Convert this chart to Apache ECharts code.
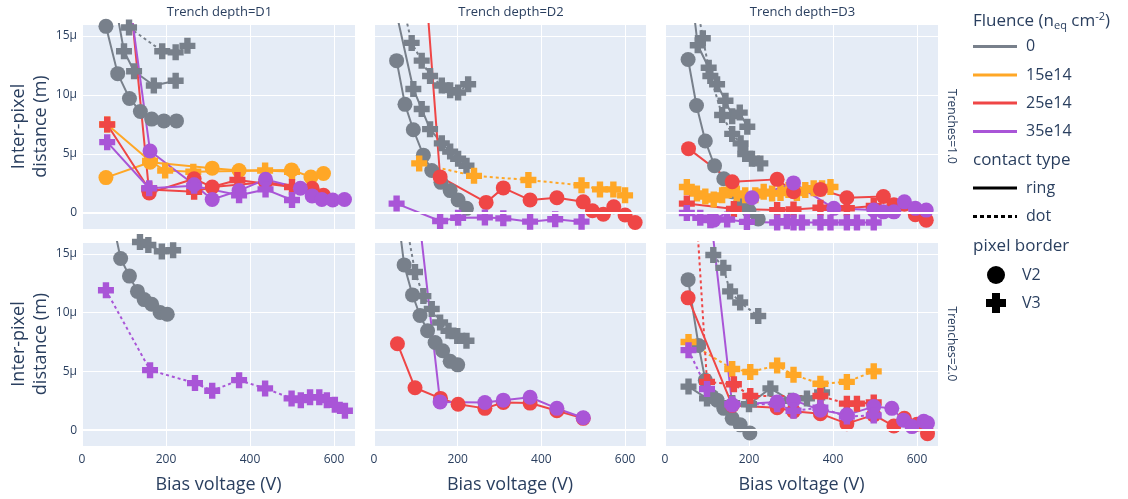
<!DOCTYPE html>
<html>
<head>
<meta charset="utf-8">
<script src="https://cdn.jsdelivr.net/npm/echarts@6/dist/echarts.min.js"></script>
<style>
  html, body { margin: 0; padding: 0; background: #fff; }
  #chart { width: 1128px; height: 499px; }
</style>
</head>
<body>
<div id="chart"></div>
<script>
// facets
const depths = ['D1', 'D2', 'D3']
const trenches = ['1.0', '2.0']
const fluences = ['0', '15e14', '25e14', '35e14']
const contactTypes = ['ring', 'dot']
const pixelBorders = ['V2', 'V3']
const xTicks = [0, 200, 400, 600]
const yTicks = [0, 5, 10, 15]

// points are [bias voltage (V), inter-pixel distance (µm)]
// Trench depth=D1, Trenches=1.0
const d1t1_0_ring_V2 = [[57, 15.8], [85, 11.8], [113, 9.7], [139, 8.6], [166, 7.95], [195, 7.8], [225, 7.8]]
const d1t1_0_ring_V3 = [[60, 21.5], [100, 13.7], [124, 12.0], [171, 10.8], [223, 11.2]]
const d1t1_0_dot_V3 = [[112, 15.7], [191, 13.7], [223, 13.6], [251, 14.15]]
const d1t1_15_ring_V2 = [[57, 3.0], [162, 4.3], [310, 3.8], [374, 3.6], [499, 3.65], [545, 3.05], [575, 3.35]]
const d1t1_15_ring_V3 = [[60, 7.5], [162, 4.4], [198, 3.6], [265, 3.5], [436, 3.6], [500, 3.5]]
const d1t1_25_ring_V2 = [[100, 23.7], [160, 1.7], [267, 2.9], [310, 2.2], [437, 2.6], [548, 2.1], [575, 1.5]]
const d1t1_25_ring_V3 = [[60, 7.5], [160, 2.0], [267, 1.8], [370, 2.8], [500, 2.2]]
const d1t1_35_ring_V2 = [[100, 21.5], [162, 5.25], [267, 2.4], [310, 1.15], [374, 1.9], [437, 2.85], [520, 2.1], [548, 1.45], [571, 1.15], [597, 1.1], [625, 1.15]]
const d1t1_35_ring_V3 = [[60, 6.0], [160, 2.1], [267, 2.3], [374, 1.5], [437, 2.0], [500, 1.1]]

// Trench depth=D2, Trenches=1.0
const d2t1_0_ring_V2 = [[54, 12.9], [74, 9.2], [94, 7.05], [118, 4.9], [138, 3.6], [160, 2.6], [182, 1.9], [201, 1.1], [221, 0.4]]
const d2t1_0_ring_V3 = [[50, 17.5], [94, 10.5], [114, 8.8], [134, 7.1], [162, 5.9], [182, 5.2], [201, 4.6], [221, 4.0]]
const d2t1_0_dot_V3 = [[60, 19], [90, 14.4], [114, 12.9], [134, 11.6], [162, 10.8], [182, 10.4], [201, 10.2], [225, 10.9]]
const d2t1_15_dot_V3 = [[108, 4.2], [239, 3.15], [369, 2.8], [496, 2.35], [540, 2.0], [572, 2.0], [600, 1.5]]
const d2t1_25_ring_V2 = [[120, 21], [158, 3.06], [268, 0.9], [309, 2.13], [373, 1.1], [437, 1.3], [500, 0.95], [522, 0.2], [548, -0.1], [573, 0.53], [600, -0.17], [624, -0.8]]
const d2t1_35_ring_V3 = [[54, 0.8], [158, -0.67], [201, -0.4], [265, -0.37], [309, -0.45], [373, -0.73], [433, -0.53], [496, -0.73]]

// Trench depth=D3, Trenches=1.0
const d3t1_0_ring_V2 = [[55, 13.0], [75, 9.1], [96, 6.1], [118, 4.0], [140, 2.9], [160, 1.8], [180, 0.9], [200, 0.2], [222, -0.5]]
const d3t1_0_ring_V3 = [[62, 19], [78, 14.2], [104, 12.3], [124, 10.9], [144, 9.5], [160, 8.2], [178, 8.5], [196, 7.3]]
const d3t1_0_dot_V3 = [[70, 19], [90, 14.8], [108, 11.6], [136, 8.3], [160, 6.7], [180, 5.9], [191, 5.0], [207, 4.6], [227, 4.2]]
const d3t1_15_ring_V3 = [[52, 2.2], [76, 1.65], [96, 1.4], [116, 1.15], [136, 1.5], [152, 1.95], [171, 1.65], [191, 1.5], [215, 1.5], [235, 1.8], [255, 1.65], [275, 1.7], [294, 1.95], [314, 1.7], [334, 1.95], [354, 2.1], [374, 2.1], [394, 2.2]]
const d3t1_25_ring_V2 = [[56, 5.45], [160, 2.65], [267, 2.85], [306, 1.8], [370, 2.0], [433, 1.3], [520, 1.4], [545, 0.7], [570, 0.75], [596, -0.15], [622, -0.6]]
const d3t1_25_ring_V3 = [[52, 0.8], [164, 0.35], [267, 0.25], [306, 0.3], [370, 0.45], [433, 0.4], [497, 0.6]]
const d3t1_35_ring_V2 = [[116, -0.6], [207, 1.3], [306, 2.55], [402, 0.4], [497, 0.25], [520, 0.1], [545, 0.1], [570, 0.95], [596, 0.4], [622, 0.25]]
const d3t1_35_ring_V3 = [[52, 0.0], [84, -0.4], [108, -0.6], [148, -0.55], [195, -0.75], [267, -0.8], [290, -0.7], [306, -0.8], [326, -0.8], [370, -0.8], [394, -0.8], [433, -0.8], [457, -0.8], [497, -0.8]]

// Trench depth=D1, Trenches=2.0
const d1t2_0_ring_V2 = [[60, 20], [92, 14.6], [113, 13.1], [132, 11.8], [148, 11.1], [166, 10.7], [186, 10.0], [203, 9.85]]
const d1t2_0_ring_V3 = [[100, 19], [138, 16.0], [158, 15.75], [190, 15.2], [217, 15.3]]
const d1t2_35_dot_V3 = [[57, 11.9], [162, 5.1], [269, 4.0], [310, 3.35], [374, 4.25], [436, 3.55], [499, 2.7], [521, 2.55], [543, 2.8], [565, 2.8], [583, 2.55], [602, 2.15], [626, 1.65]]

// Trench depth=D2, Trenches=2.0
const d2t2_0_ring_V2 = [[55, 19], [72, 14.05], [92, 11.5], [110, 9.75], [128, 8.45], [146, 7.45], [164, 6.75], [182, 5.85], [200, 5.55]]
const d2t2_0_dot_V3 = [[70, 19], [98, 13.45], [118, 11.4], [138, 10.3], [158, 9.15], [178, 8.45], [199, 8.0], [221, 7.6]]
const d2t2_25_ring_V2 = [[56, 7.35], [98, 3.6], [159, 2.7], [201, 2.2], [265, 1.85], [309, 2.35], [373, 2.3], [437, 1.65], [500, 1.0]]
const d2t2_35_ring_V2 = [[100, 20.5], [158, 2.4], [265, 2.35], [309, 2.55], [373, 2.8], [437, 1.85], [500, 1.05]]

// Trench depth=D3, Trenches=2.0
const d3t2_0_ring_V2 = [[55, 12.8], [80, 7.2], [96, 4.25], [112, 2.85], [124, 2.55], [140, 1.85], [160, 1.0], [179, 0.45], [202, -0.25]]
const d3t2_0_ring_V3 = [[56, 3.7], [100, 2.7], [160, 2.3], [200, 2.2], [251, 3.55], [300, 2.5], [338, 2.7], [374, 3.2]]
const d3t2_0_dot_V3 = [[115, 14.9], [139, 13.8], [155, 11.8], [179, 10.85], [222, 9.7]]
const d3t2_15_dot_V3 = [[56, 7.5], [160, 5.2], [203, 4.95], [267, 5.5], [306, 4.7], [370, 3.95], [433, 4.1], [497, 5.0]]
const d3t2_25_ring_V2 = [[55, 11.25], [160, 2.1], [267, 1.9], [306, 1.6], [370, 1.4], [433, 0.55], [497, 1.3], [545, 0.35], [570, 1.0], [600, 0.5], [625, -0.3]]
const d3t2_25_dot_V3 = [[60, 27], [100, 4.1], [164, 3.9], [203, 2.9], [370, 2.9], [433, 2.25], [457, 2.25], [497, 2.35]]
const d3t2_35_ring_V2 = [[100, 21], [160, 2.15], [267, 2.4], [306, 2.55], [370, 1.7], [433, 1.3], [497, 2.0], [540, 1.85], [568, 0.85], [588, 0.3], [616, 0.75], [625, 0.6]]
const d3t2_35_dot_V3 = [[56, 6.8], [100, 3.5], [160, 2.2], [267, 2.2], [306, 1.65], [370, 1.9], [433, 1.15], [497, 1.25]]

// panel = row * 3 + col, drawn in this order (purple ends on top)
const traces = [
  [0, '0', 'ring', 'V2', d1t1_0_ring_V2], [0, '0', 'ring', 'V3', d1t1_0_ring_V3], [0, '0', 'dot', 'V3', d1t1_0_dot_V3],
  [0, '15e14', 'ring', 'V2', d1t1_15_ring_V2], [0, '15e14', 'ring', 'V3', d1t1_15_ring_V3],
  [0, '25e14', 'ring', 'V2', d1t1_25_ring_V2], [0, '25e14', 'ring', 'V3', d1t1_25_ring_V3],
  [0, '35e14', 'ring', 'V2', d1t1_35_ring_V2], [0, '35e14', 'ring', 'V3', d1t1_35_ring_V3],

  [1, '0', 'ring', 'V2', d2t1_0_ring_V2], [1, '0', 'ring', 'V3', d2t1_0_ring_V3], [1, '0', 'dot', 'V3', d2t1_0_dot_V3],
  [1, '15e14', 'dot', 'V3', d2t1_15_dot_V3],
  [1, '25e14', 'ring', 'V2', d2t1_25_ring_V2],
  [1, '35e14', 'ring', 'V3', d2t1_35_ring_V3],

  [2, '0', 'ring', 'V2', d3t1_0_ring_V2], [2, '0', 'ring', 'V3', d3t1_0_ring_V3], [2, '0', 'dot', 'V3', d3t1_0_dot_V3],
  [2, '15e14', 'ring', 'V3', d3t1_15_ring_V3],
  [2, '25e14', 'ring', 'V2', d3t1_25_ring_V2], [2, '25e14', 'ring', 'V3', d3t1_25_ring_V3],
  [2, '35e14', 'ring', 'V2', d3t1_35_ring_V2], [2, '35e14', 'ring', 'V3', d3t1_35_ring_V3],

  [3, '0', 'ring', 'V2', d1t2_0_ring_V2], [3, '0', 'ring', 'V3', d1t2_0_ring_V3],
  [3, '35e14', 'dot', 'V3', d1t2_35_dot_V3],

  [4, '0', 'ring', 'V2', d2t2_0_ring_V2], [4, '0', 'dot', 'V3', d2t2_0_dot_V3],
  [4, '25e14', 'ring', 'V2', d2t2_25_ring_V2],
  [4, '35e14', 'ring', 'V2', d2t2_35_ring_V2],

  [5, '0', 'ring', 'V2', d3t2_0_ring_V2], [5, '0', 'ring', 'V3', d3t2_0_ring_V3], [5, '0', 'dot', 'V3', d3t2_0_dot_V3],
  [5, '15e14', 'dot', 'V3', d3t2_15_dot_V3],
  [5, '25e14', 'ring', 'V2', d3t2_25_ring_V2], [5, '25e14', 'dot', 'V3', d3t2_25_dot_V3],
  [5, '35e14', 'ring', 'V2', d3t2_35_ring_V2], [5, '35e14', 'dot', 'V3', d3t2_35_dot_V3]
]

const font = '"Open Sans", "Noto Sans", sans-serif'
const textColor = '#2a3f5f'
const colors = { '0': '#78808b', '15e14': '#ffa726', '25e14': '#ef4646', '35e14': '#a955d7' }
const crossPath = 'path://M6,0H14V6H20V14H14V20H6V14H0V6H6Z'

// layout of the 2x3 facets
const colLeft = [82, 374, 665]
const colWidth = [273, 272, 273]
const rowTop = [24, 242]
const rowHeight = [205, 204]

const grids = [], xAxes = [], yAxes = [], series = []
for (let r = 0; r < trenches.length; r++) {
  for (let c = 0; c < depths.length; c++) {
    const i = r * 3 + c
    grids.push({
      left: colLeft[c], top: rowTop[r], width: colWidth[c], height: rowHeight[r],
      show: true, backgroundColor: '#E5ECF6', borderWidth: 0
    })
    xAxes.push({
      type: 'value', gridIndex: i, min: 0, max: 650, splitNumber: 3,
      axisLine: { show: false }, axisTick: { show: false },
      splitLine: { show: true, lineStyle: { color: '#fff', width: 1 } },
      axisLabel: {
        show: r === 1, color: textColor, fontFamily: font, fontSize: 12, margin: 8,
        formatter: v => xTicks.includes(v) ? String(v) : ''
      },
      name: r === 1 ? 'Bias voltage (V)' : '', nameLocation: 'middle', nameGap: 30,
      nameTextStyle: { color: textColor, fontFamily: font, fontSize: 18 }
    })
    yAxes.push({
      type: 'value', gridIndex: i, min: -1.35, max: 16, splitNumber: 4,
      axisLine: { show: false }, axisTick: { show: false },
      splitLine: { show: true, lineStyle: { color: '#fff', width: 1 } },
      axisLabel: {
        show: c === 0, color: textColor, fontFamily: font, fontSize: 12, margin: 5,
        formatter: v => v === 0 ? '0' : (yTicks.includes(v) ? v + 'μ' : '')
      },
      name: c === 0 ? 'Inter-pixel\ndistance (m)' : '', nameLocation: 'middle', nameRotate: 90, nameGap: 30,
      nameTextStyle: { color: textColor, fontFamily: font, fontSize: 18, lineHeight: 22 }
    })
    // thicker zero line, as in the original
    series.push({
      type: 'line', xAxisIndex: i, yAxisIndex: i, data: [], z: 1, silent: true,
      markLine: { silent: true, symbol: 'none', label: { show: false }, animation: false,
        lineStyle: { color: '#fff', width: 2, type: 'solid' }, data: [{ yAxis: 0 }] }
    })
  }
}

traces.forEach(([panel, fluence, contact, border, data]) => {
  const color = colors[fluence]
  series.push({
    name: fluence + ', ' + contact + ', ' + border,
    type: 'line', xAxisIndex: panel, yAxisIndex: panel, data: data, clip: true,
    symbol: border === 'V2' ? 'circle' : crossPath,
    symbolSize: border === 'V2' ? 15 : 16,
    showAllSymbol: true,
    itemStyle: { color: color, opacity: 1 },
    lineStyle: { color: color, width: 2, type: contact === 'dot' ? [3, 3] : 'solid' }
  })
})

// facet titles and the legend are drawn as graphic elements
function txt(x, y, text, size, extra) {
  return Object.assign({ type: 'text', x: x, y: y, silent: true,
    style: { text: text, fill: textColor, fontFamily: font, fontSize: size, verticalAlign: 'middle', align: 'left' } }, extra || {})
}
function plus(cx, cy, s, t) {
  const h = s / 2, a = t / 2
  return [[cx - a, cy - h], [cx + a, cy - h], [cx + a, cy - a], [cx + h, cy - a], [cx + h, cy + a], [cx + a, cy + a],
    [cx + a, cy + h], [cx - a, cy + h], [cx - a, cy + a], [cx - h, cy + a], [cx - h, cy - a], [cx - a, cy - a]]
}
const graphic = []
depths.forEach((d, c) => {
  const t = txt(colLeft[c] + colWidth[c] / 2 + 1, 12, 'Trench depth=' + d, 13)
  t.style.align = 'center'
  graphic.push(t)
})
trenches.forEach((t, r) => {
  const g = txt(951, rowTop[r] + rowHeight[r] / 2, 'Trenches=' + t, 12, { rotation: -Math.PI / 2 })
  g.style.align = 'center'
  graphic.push(g)
})
const lx = 973
graphic.push({
  type: 'text', x: lx, y: 21, silent: true,
  style: {
    text: '{a|Fluence (n}{s|eq}{a| cm}{p|-2}{a|)}', verticalAlign: 'middle',
    rich: {
      a: { fill: textColor, fontFamily: font, fontSize: 17, lineHeight: 24 },
      s: { fill: textColor, fontFamily: font, fontSize: 11, lineHeight: 24, padding: [9, 0, 0, 0] },
      p: { fill: textColor, fontFamily: font, fontSize: 11, lineHeight: 24, padding: [0, 0, 9, 0] }
    }
  }
})
const fluenceY = [46.5, 75, 103, 131.5]
fluences.forEach((f, k) => {
  graphic.push({ type: 'line', silent: true, shape: { x1: lx, y1: fluenceY[k], x2: lx + 44, y2: fluenceY[k] },
    style: { stroke: colors[f], lineWidth: 3 } })
  graphic.push(txt(1026, fluenceY[k], f, 16))
})
graphic.push(txt(lx, 160, 'contact type', 17))
const contactY = [188, 216.5]
contactTypes.forEach((ct, k) => {
  graphic.push({ type: 'line', silent: true, shape: { x1: lx, y1: contactY[k], x2: lx + 44, y2: contactY[k] },
    style: { stroke: '#000', lineWidth: 3, lineDash: ct === 'dot' ? [4, 3] : null } })
  graphic.push(txt(1026, contactY[k], ct, 16))
})
graphic.push(txt(lx, 246, 'pixel border', 17))
graphic.push({ type: 'circle', silent: true, shape: { cx: 996, cy: 275, r: 9 }, style: { fill: '#000' } })
graphic.push(txt(1022, 275, pixelBorders[0], 16))
graphic.push({ type: 'polygon', silent: true, shape: { points: plus(996, 303, 20, 8) }, style: { fill: '#000' } })
graphic.push(txt(1022, 303, pixelBorders[1], 16))

const chart = echarts.init(document.getElementById('chart'), null, { renderer: 'canvas' })
chart.setOption({
  backgroundColor: '#fff',
  animation: false,
  textStyle: { fontFamily: font },
  grid: grids,
  xAxis: xAxes,
  yAxis: yAxes,
  series: series,
  graphic: graphic
})
</script>
</body>
</html>
